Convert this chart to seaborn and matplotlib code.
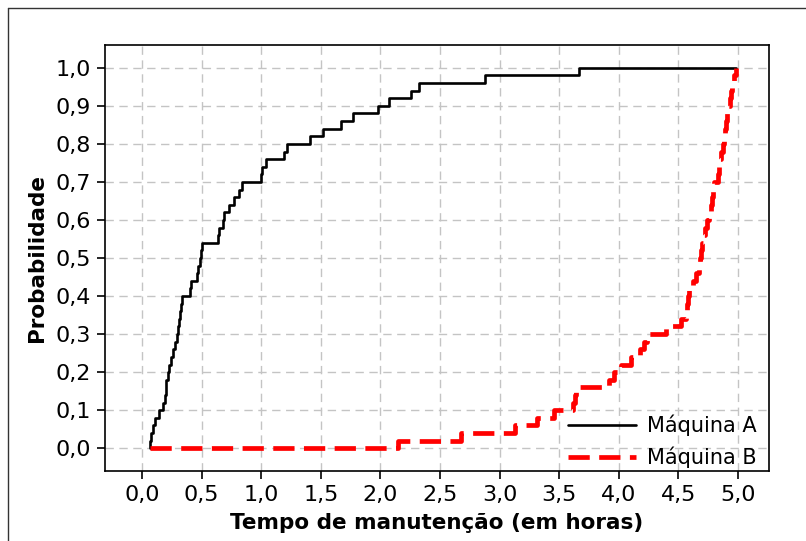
import numpy as np
import pandas as pd
import seaborn as sns
import matplotlib.pyplot as plt
from matplotlib.lines import Line2D

# tempos de manutencao (horas)
maquina_a = [0.07, 0.08, 0.09, 0.11, 0.145, 0.18, 0.19, 0.20, 0.205, 0.215,
             0.225, 0.243, 0.26, 0.28, 0.29, 0.30, 0.31, 0.32, 0.33, 0.335,
             0.405, 0.41, 0.46, 0.47, 0.49, 0.495, 0.50, 0.637, 0.645, 0.684,
             0.69, 0.734, 0.776, 0.81, 0.843, 1.0, 1.01, 1.04, 1.19, 1.22,
             1.41, 1.52, 1.67, 1.77, 1.98, 2.07, 2.26, 2.32, 2.875, 3.67]
maquina_b = [2.15, 2.68, 3.13, 3.31, 3.46, 3.62, 3.63, 3.64, 3.92, 3.96,
             4.02, 4.10, 4.18, 4.21, 4.24, 4.40, 4.52, 4.56, 4.57, 4.58,
             4.59, 4.62, 4.65, 4.67, 4.68, 4.69, 4.70, 4.71, 4.72, 4.74,
             4.76, 4.77, 4.78, 4.79, 4.80, 4.83, 4.84, 4.85, 4.86, 4.87,
             4.88, 4.89, 4.90, 4.91, 4.92, 4.93, 4.94, 4.95, 4.97, 4.98]
series_names = ['Máquina A', 'Máquina B']

x_ticks = [0.0, 0.5, 1.0, 1.5, 2.0, 2.5, 3.0, 3.5, 4.0, 4.5, 5.0]
y_ticks = [0.0, 0.1, 0.2, 0.3, 0.4, 0.5, 0.6, 0.7, 0.8, 0.9, 1.0]
x_labels = ['0,0', '0,5', '1,0', '1,5', '2,0', '2,5', '3,0', '3,5', '4,0', '4,5', '5,0']
y_labels = ['0,0', '0,1', '0,2', '0,3', '0,4', '0,5', '0,6', '0,7', '0,8', '0,9', '1,0']

sns.set_style('white')
plt.rcParams['font.family'] = ['DejaVu Sans']
plt.rcParams['text.color'] = 'black'
plt.rcParams['axes.labelcolor'] = 'black'

# cdf empirica, desenhada do minimo ao maximo global (estilo Minitab)
lo = min(min(maquina_a), min(maquina_b))
hi = max(max(maquina_a), max(maquina_b))
frames = []
for name, vals in zip(series_names, [maquina_a, maquina_b]):
    v = np.sort(np.array(vals))
    n = len(v)
    xs = np.concatenate([[lo], v, [hi]])
    ys = np.concatenate([[0.0], np.arange(1, n + 1) / n, [1.0]])
    frames.append(pd.DataFrame({'x': xs, 'y': ys, 'serie': name}))
df = pd.concat(frames, ignore_index=True)

fig = plt.figure(figsize=(8.06, 5.41), dpi=100)
ax = fig.add_axes([105 / 806, 1 - 471 / 541, (769 - 105) / 806, (471 - 45) / 541])

sns.lineplot(data=df[df.serie == 'Máquina A'], x='x', y='y', ax=ax,
             color='black', lw=1.9, drawstyle='steps-post',
             estimator=None, sort=False, legend=False)
sns.lineplot(data=df[df.serie == 'Máquina B'], x='x', y='y', ax=ax,
             color='#ff0000', lw=3.4, drawstyle='steps-post',
             estimator=None, sort=False, legend=False, dashes=False)
ax.lines[1].set_dashes([4.5, 2.0])

ax.set_xlim(-0.31, 5.26)
ax.set_ylim(-0.06, 1.06)
ax.set_xticks(x_ticks)
ax.set_xticklabels(x_labels)
ax.set_yticks(y_ticks)
ax.set_yticklabels(y_labels)
ax.tick_params(axis='both', direction='out', length=6, width=1.2, colors='black',
               labelsize=16, bottom=True, left=True, pad=4)
ax.grid(True, color='#c4c4c4', linestyle=(0, (6, 4)), linewidth=1.0)
for s in ax.spines.values():
    s.set_color('black')
    s.set_linewidth(1.2)

ax.set_xlabel('Tempo de manutenção (em horas)', fontsize=15.5, fontweight='bold', labelpad=6)
ax.set_ylabel('Probabilidade', fontsize=15.5, fontweight='bold', labelpad=6)

handles = [Line2D([], [], color='black', lw=1.9),
           Line2D([], [], color='#ff0000', lw=3.4, dashes=[4.5, 2.0])]
ax.legend(handles, series_names, loc='lower right', bbox_to_anchor=(1.0, -0.022),
          frameon=False, fontsize=15, handlelength=3.3, handletextpad=0.5,
          labelspacing=0.5, borderaxespad=0.2)

# moldura da figura (so topo e esquerda visiveis)
fig.add_artist(Line2D([8 / 806, 8 / 806], [0, 1 - 8 / 541], color='#333333', lw=1.0))
fig.add_artist(Line2D([8 / 806, 1], [1 - 8 / 541, 1 - 8 / 541], color='#333333', lw=1.0))

fig.savefig('out.png', dpi=100)
